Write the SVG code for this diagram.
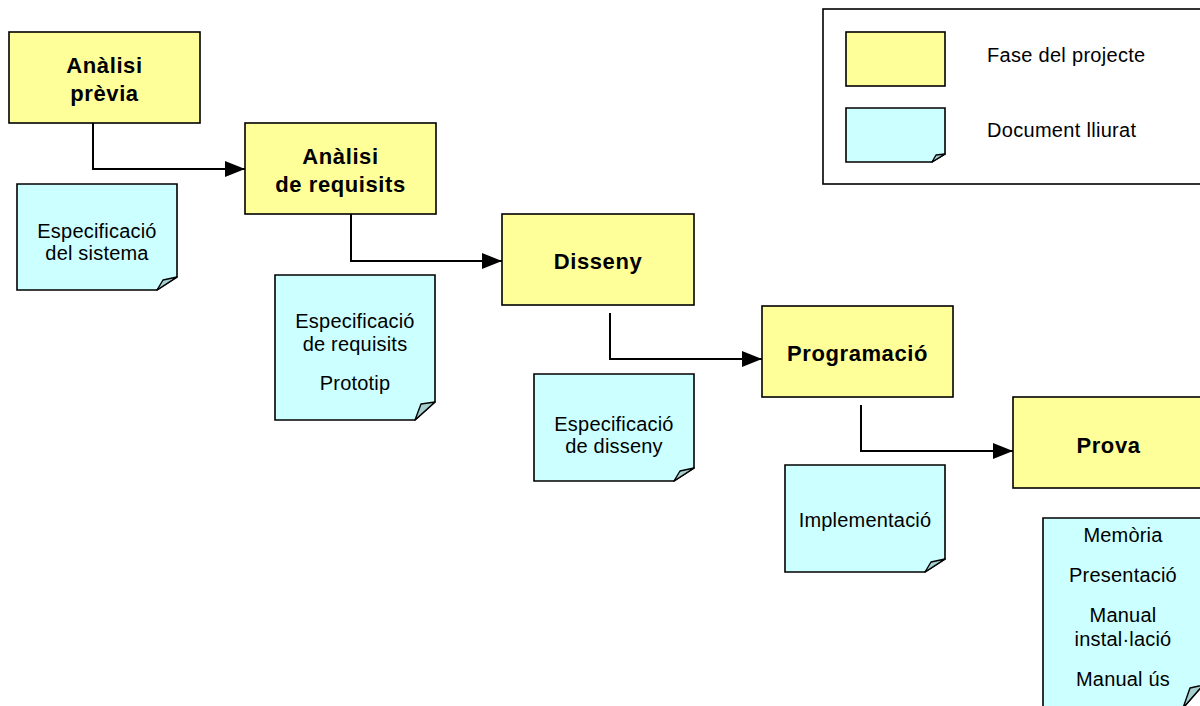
<svg xmlns="http://www.w3.org/2000/svg" width="1200" height="706" viewBox="0 0 1200 706">
  <defs>
    <style>
      .phase { fill: #FFFF99; stroke: #000; stroke-width: 1.6; }
      .doc { fill: #CCFFFF; stroke: #000; stroke-width: 1.6; stroke-linejoin: miter; }
      .fold { fill: #A6CFCF; stroke: #000; stroke-width: 1.4; stroke-linejoin: round; }
      .legend { fill: #fff; stroke: #000; stroke-width: 1.6; }
      .pt { font-family: "Liberation Sans", Arial, sans-serif; font-weight: bold; font-size: 22px; letter-spacing: 0.6px; fill: #000; text-anchor: middle; }
      .dt { font-family: "Liberation Sans", Arial, sans-serif; font-size: 20px; letter-spacing: 0.2px; fill: #000; text-anchor: middle; }
      .lt { font-family: "Liberation Sans", Arial, sans-serif; font-size: 20px; letter-spacing: 0.3px; fill: #000; }
      .conn { fill: none; stroke: #000; stroke-width: 2; }
    </style>
    <marker id="arrow" viewBox="0 0 20 16" refX="20" refY="8" markerWidth="20" markerHeight="16" markerUnits="userSpaceOnUse" orient="auto">
      <path d="M0,0 L20,8 L0,16 Z" fill="#000"/>
    </marker>
  </defs>

  <rect width="1200" height="706" fill="#fff"/>

  <!-- Legend -->
  <g id="legend">
    <rect class="legend" x="823" y="9" width="400" height="175"/>
    <rect class="phase" x="846" y="32" width="99" height="54"/>
    <path class="doc" d="M846,108 H945 V154 L932,162 H846 Z"/>
    <path class="fold" d="M932,162 L936,155 L945,154 Z"/>
    <text class="lt" x="987" y="62">Fase del projecte</text>
    <text class="lt" x="987" y="137">Document lliurat</text>
  </g>

  <!-- Connectors between phases -->
  <g id="connectors">
    <path class="conn" d="M93,122 V169 H245" marker-end="url(#arrow)"/>
    <path class="conn" d="M351,214 V261 H502" marker-end="url(#arrow)"/>
    <path class="conn" d="M610,313 V359 H762" marker-end="url(#arrow)"/>
    <path class="conn" d="M861,405 V451 H1013" marker-end="url(#arrow)"/>
  </g>

  <!-- Project phases -->
  <g id="phase-analisi-previa">
    <rect class="phase" x="9" y="32" width="191" height="91"/>
    <text class="pt" x="104.5" y="73">Anàlisi</text>
    <text class="pt" x="104.5" y="101">prèvia</text>
  </g>
  <g id="phase-analisi-requisits">
    <rect class="phase" x="245" y="123" width="191" height="91"/>
    <text class="pt" x="340.5" y="164">Anàlisi</text>
    <text class="pt" x="340.5" y="192">de requisits</text>
  </g>
  <g id="phase-disseny">
    <rect class="phase" x="502" y="214" width="192" height="91"/>
    <text class="pt" x="598" y="269">Disseny</text>
  </g>
  <g id="phase-programacio">
    <rect class="phase" x="762" y="306" width="191" height="91"/>
    <text class="pt" x="857.5" y="361">Programació</text>
  </g>
  <g id="phase-prova">
    <rect class="phase" x="1013" y="397" width="191" height="91"/>
    <text class="pt" x="1108.5" y="453">Prova</text>
  </g>

  <!-- Delivered documents -->
  <g id="doc-especificacio-sistema">
    <path class="doc" d="M17,184 H177 V277 L157,290 H17 Z"/>
    <path class="fold" d="M157,290 L163,280 L177,277 Z"/>
    <text class="dt" x="97" y="238">Especificació</text>
    <text class="dt" x="97" y="260">del sistema</text>
  </g>
  <g id="doc-especificacio-requisits">
    <path class="doc" d="M275,275 H435 V402 L415,420 H275 Z"/>
    <path class="fold" d="M415,420 L421,404 L435,402 Z"/>
    <text class="dt" x="355" y="328">Especificació</text>
    <text class="dt" x="355" y="351">de requisits</text>
    <text class="dt" x="355" y="390">Prototip</text>
  </g>
  <g id="doc-especificacio-disseny">
    <path class="doc" d="M534,374 H694 V468 L674,481 H534 Z"/>
    <path class="fold" d="M674,481 L680,471 L694,468 Z"/>
    <text class="dt" x="614" y="431">Especificació</text>
    <text class="dt" x="614" y="453">de disseny</text>
  </g>
  <g id="doc-implementacio">
    <path class="doc" d="M785,465 H945 V559 L925,572 H785 Z"/>
    <path class="fold" d="M925,572 L931,562 L945,559 Z"/>
    <text class="dt" x="865" y="527">Implementació</text>
  </g>
  <g id="doc-memoria">
    <path class="doc" d="M1043,518 H1203 V685 L1183,708 H1043 Z"/>
    <path class="fold" d="M1183,708 L1190,688 L1203,685 Z"/>
    <text class="dt" x="1123" y="542">Memòria</text>
    <text class="dt" x="1123" y="582">Presentació</text>
    <text class="dt" x="1123" y="622">Manual</text>
    <text class="dt" x="1123" y="646">instal·lació</text>
    <text class="dt" x="1123" y="686">Manual ús</text>
  </g>
</svg>
